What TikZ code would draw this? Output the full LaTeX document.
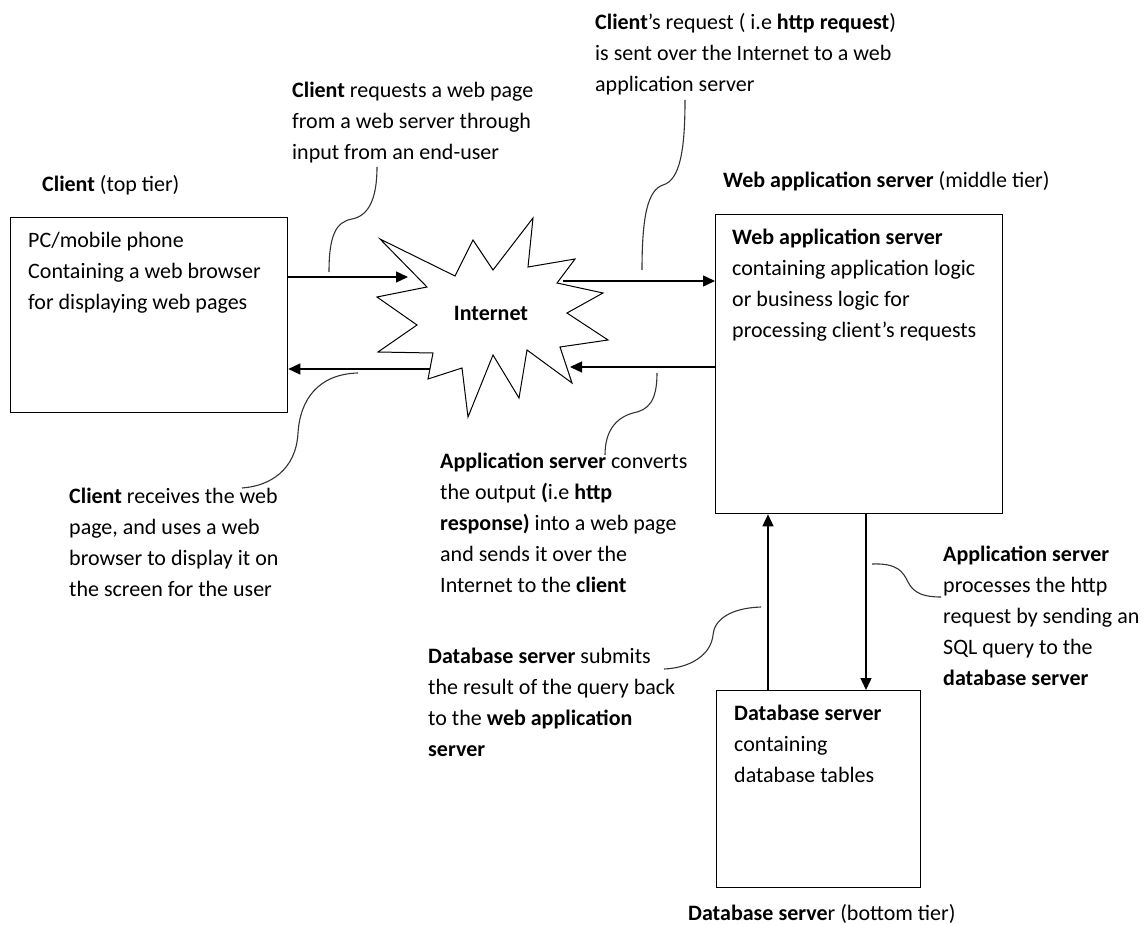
\documentclass[tikz,border=0pt]{standalone}
\usepackage{fontspec}
\setmainfont{Carlito}
\usetikzlibrary{arrows.meta,positioning}
\tikzset{
    tierbox/.style={draw=black,line width=1.3pt,inner sep=0pt,anchor=north west},
    txt/.style={anchor=north west,inner sep=0pt,align=left,font=\fontsize{22}{31}\selectfont,execute at begin node=\strut},
    flow/.style={line width=1.4pt,-{Triangle[length=12pt,width=11pt]}},
    callout/.style={line width=1.1pt,black!80}
}
\begin{document}
\begin{tikzpicture}[x=1pt,y=-1pt]
    \useasboundingbox (0,0) rectangle (1145,925);
    % boxes of the three tiers
    \node[tierbox,minimum width=277pt,minimum height=195pt] (client) at (10,217) {};
    \node[tierbox,minimum width=287pt,minimum height=299pt] (webapp) at (715,214) {};
    \node[tierbox,minimum width=204pt,minimum height=197pt] (dbserver) at (716,690) {};
    \node[txt,below right=15pt and 18pt of client.north west] (clienttxt) {PC/mobile phone\\Containing a web browser\\for displaying web pages};
    \node[txt,below right=15pt and 17pt of webapp.north west] (webapptxt) {\textbf{Web application server}\\containing application logic\\or business logic for\\processing client’s requests};
    \node[txt,below right=15pt and 18pt of dbserver.north west] (dbtxt) {\textbf{Database server}\\containing\\database tables};
    \node[txt] (clienttier) at (42,170) {\textbf{Client} (top tier)};
    \node[txt] (webtier) at (723,166) {\textbf{Web application server} (middle tier)};
    \node[txt] (dbtier) at (688,899) {\textbf{Database serve}r (bottom tier)};
    % the internet
    \draw[line width=1pt] (380,239) -- (455,276) -- (473,240) -- (493,270) -- (533,218) -- (528,267)
        -- (575,259) -- (557,283) -- (603,293) -- (567,313) -- (608,340) -- (560,347)
        -- (572,383) -- (527,350) -- (519,398) -- (493,355) -- (468,417) -- (462,368)
        -- (428,379) -- (433,353) -- (378,352) -- (417,325) -- (377,297) -- (427,287) -- cycle;
    \node[font=\bfseries\fontsize{22}{31}\selectfont] (internet) at (491,313) {Internet};
    \coordinate (netin) at (408,277);
    \coordinate (netout) at (563,281);
    \coordinate (netback) at (570,367);
    \coordinate (netleft) at (430,369);
    \coordinate (upx) at (768,600);
    \coordinate (downx) at (866,600);
    % arrows
    \draw[flow] (client.east |- netin) -- (netin);
    \draw[flow] (netout) -- (webapp.west |- netout);
    \draw[flow] (webapp.west |- netback) -- (netback);
    \draw[flow] (netleft) -- (client.east |- netleft);
    \draw[flow] (dbserver.north -| upx) -- (webapp.south -| upx);
    \draw[flow] (webapp.south -| downx) -- (dbserver.north -| downx);
    % labels
    \node[txt] (reqlabel) at (292,82) {\textbf{Client} requests a web page\\from a web server through\\input from an end-user};
    \node[txt] (httplabel) at (595,13) {\textbf{Client}’s request ( i.e \textbf{http request})\\is sent over the Internet to a web\\application server};
    \node[txt] (convlabel) at (440,453) {\textbf{Application server} converts\\the output \textbf{(}i.e \textbf{http}\\\textbf{response)} into a web page\\and sends it over the\\Internet to the \textbf{client}};
    \node[txt] (recvlabel) at (69,488) {\textbf{Client} receives the web\\page, and uses a web\\browser to display it on\\the screen for the user};
    \node[txt] (proclabel) at (943,546) {\textbf{Application server}\\processes the http\\request by sending an\\SQL query to the\\\textbf{database server}};
    \node[txt] (submlabel) at (428,648) {\textbf{Database server} submits\\the result of the query back\\to the \textbf{web application}\\\textbf{server}};
    % callouts
    \coordinate (reqa) at (329,272);
    \coordinate (reqb) at (377,167);
    \coordinate (httpa) at (642,270);
    \coordinate (httpb) at (685,100);
    \coordinate (recva) at (358,373);
    \coordinate (recvb) at (242,488);
    \coordinate (conva) at (657,373);
    \coordinate (convb) at (605,455);
    \coordinate (proca) at (872,564);
    \coordinate (procb) at (941,597);
    \coordinate (subma) at (761,607);
    \coordinate (submb) at (664,669);
    \draw[callout] (reqa) .. controls (329,235) and (336,222) .. (352,219) .. controls (368,216) and (377,200) .. (reqb);
    \draw[callout] (httpa) .. controls (642,215) and (648,190) .. (663,185) .. controls (680,180) and (685,150) .. (httpb);
    \draw[callout] (recva) .. controls (318,374) and (300,400) .. (298,433) .. controls (296,470) and (270,486) .. (recvb);
    \draw[callout] (conva) .. controls (657,402) and (648,410) .. (633,413) .. controls (615,418) and (605,432) .. (convb);
    \draw[callout] (proca) .. controls (898,563) and (903,572) .. (908,582) .. controls (914,594) and (925,597) .. (procb);
    \draw[callout] (subma) .. controls (730,608) and (714,620) .. (713,635) .. controls (711,655) and (690,668) .. (submb);
\end{tikzpicture}
\end{document}
